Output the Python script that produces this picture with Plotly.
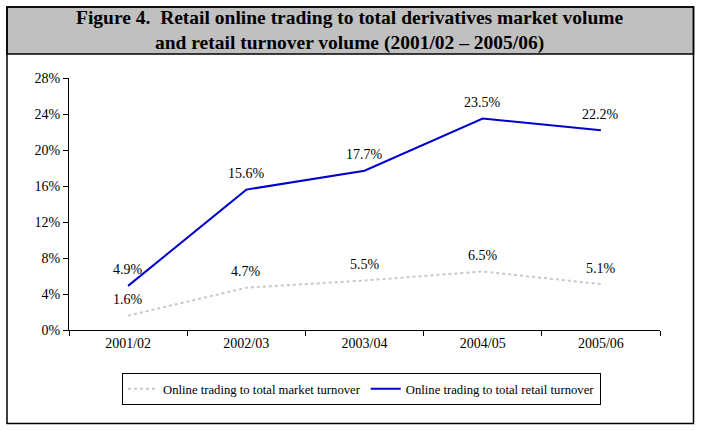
import plotly.graph_objects as go

categories = ["2001/02", "2002/03", "2003/04", "2004/05", "2005/06"]
market_share = [0.016, 0.047, 0.055, 0.065, 0.051]
retail_share = [0.049, 0.156, 0.177, 0.235, 0.222]
y_ticks = [0, 0.04, 0.08, 0.12, 0.16, 0.20, 0.24, 0.28]
y_tick_labels = ["0%", "4%", "8%", "12%", "16%", "20%", "24%", "28%"]
title_text = ("Figure 4.\u00a0 Retail online trading to total derivatives market volume<br>"
              "and retail turnover volume (2001/02 \u2013 2005/06)")

W, H = 702, 431
L, R, T, B = 69, 660, 78, 330

def px_x(p):
    return (p - L) / (R - L)

def px_y(p):
    return (B - p) / (B - T)

font_family = "Liberation Serif, Times New Roman, serif"

fig = go.Figure()
fig.add_trace(go.Scatter(
    x=categories, y=market_share, mode="lines",
    name="Online trading to total market turnover",
    line=dict(color="#C8C8C8", width=2, dash="dot"),
))
fig.add_trace(go.Scatter(
    x=categories, y=retail_share, mode="lines",
    name="Online trading to total retail turnover",
    line=dict(color="#0000CC", width=2),
))

annotations = []
for series in (market_share, retail_share):
    for c, v in zip(categories, series):
        annotations.append(dict(
            x=c, y=v, xref="x", yref="y", text=f"{v*100:.1f}%",
            showarrow=False, xanchor="center", yanchor="middle", yshift=16,
            font=dict(family=font_family, size=14, color="black"),
        ))

annotations.append(dict(
    text="<b>" + title_text + "</b>", xref="paper", yref="paper",
    x=px_x(350), y=px_y(30), xanchor="center", yanchor="middle",
    showarrow=False, font=dict(family=font_family, size=19.5, color="black"),
))

fig.update_layout(
    width=W, height=H,
    margin=dict(l=L, r=W - R, t=T, b=H - B, autoexpand=False),
    paper_bgcolor="white", plot_bgcolor="white",
    font=dict(family=font_family, size=12, color="black"),
    showlegend=True,
    legend=dict(
        orientation="h", x=px_x(122), y=px_y(373), xanchor="left", yanchor="top",
        bordercolor="black", borderwidth=1, bgcolor="white",
        font=dict(family=font_family, size=12.7, color="black"),
        itemwidth=30, tracegroupgap=0,
    ),
    xaxis=dict(
        type="category", range=[-0.5, 4.5], showgrid=False,
        showline=True, linecolor="black", linewidth=1,
        ticks="outside", tickson="boundaries", ticklen=5, tickcolor="black",
        tickfont=dict(family=font_family, size=14), fixedrange=True,
    ),
    yaxis=dict(
        range=[0, 0.28], showgrid=False, zeroline=False,
        showline=True, linecolor="black", linewidth=1,
        ticks="outside", ticklen=5, tickcolor="black",
        tickvals=y_ticks, ticktext=y_tick_labels,
        tickfont=dict(family=font_family, size=14), fixedrange=True,
    ),
    shapes=[
        dict(type="rect", xref="paper", yref="paper",
             x0=px_x(7), x1=px_x(693.5), y0=px_y(54), y1=px_y(7),
             fillcolor="#C0C0C0", line=dict(color="black", width=1.5), layer="below"),
        dict(type="rect", xref="paper", yref="paper",
             x0=px_x(7), x1=px_x(693.5), y0=px_y(423.5), y1=px_y(7),
             fillcolor="rgba(0,0,0,0)", line=dict(color="black", width=1.5), layer="below"),
    ],
    annotations=annotations,
)

fig.write_html(
    "out.html",
    config={"displayModeBar": False},
    post_script="document.body.style.margin='0';document.body.style.padding='0';",
)
